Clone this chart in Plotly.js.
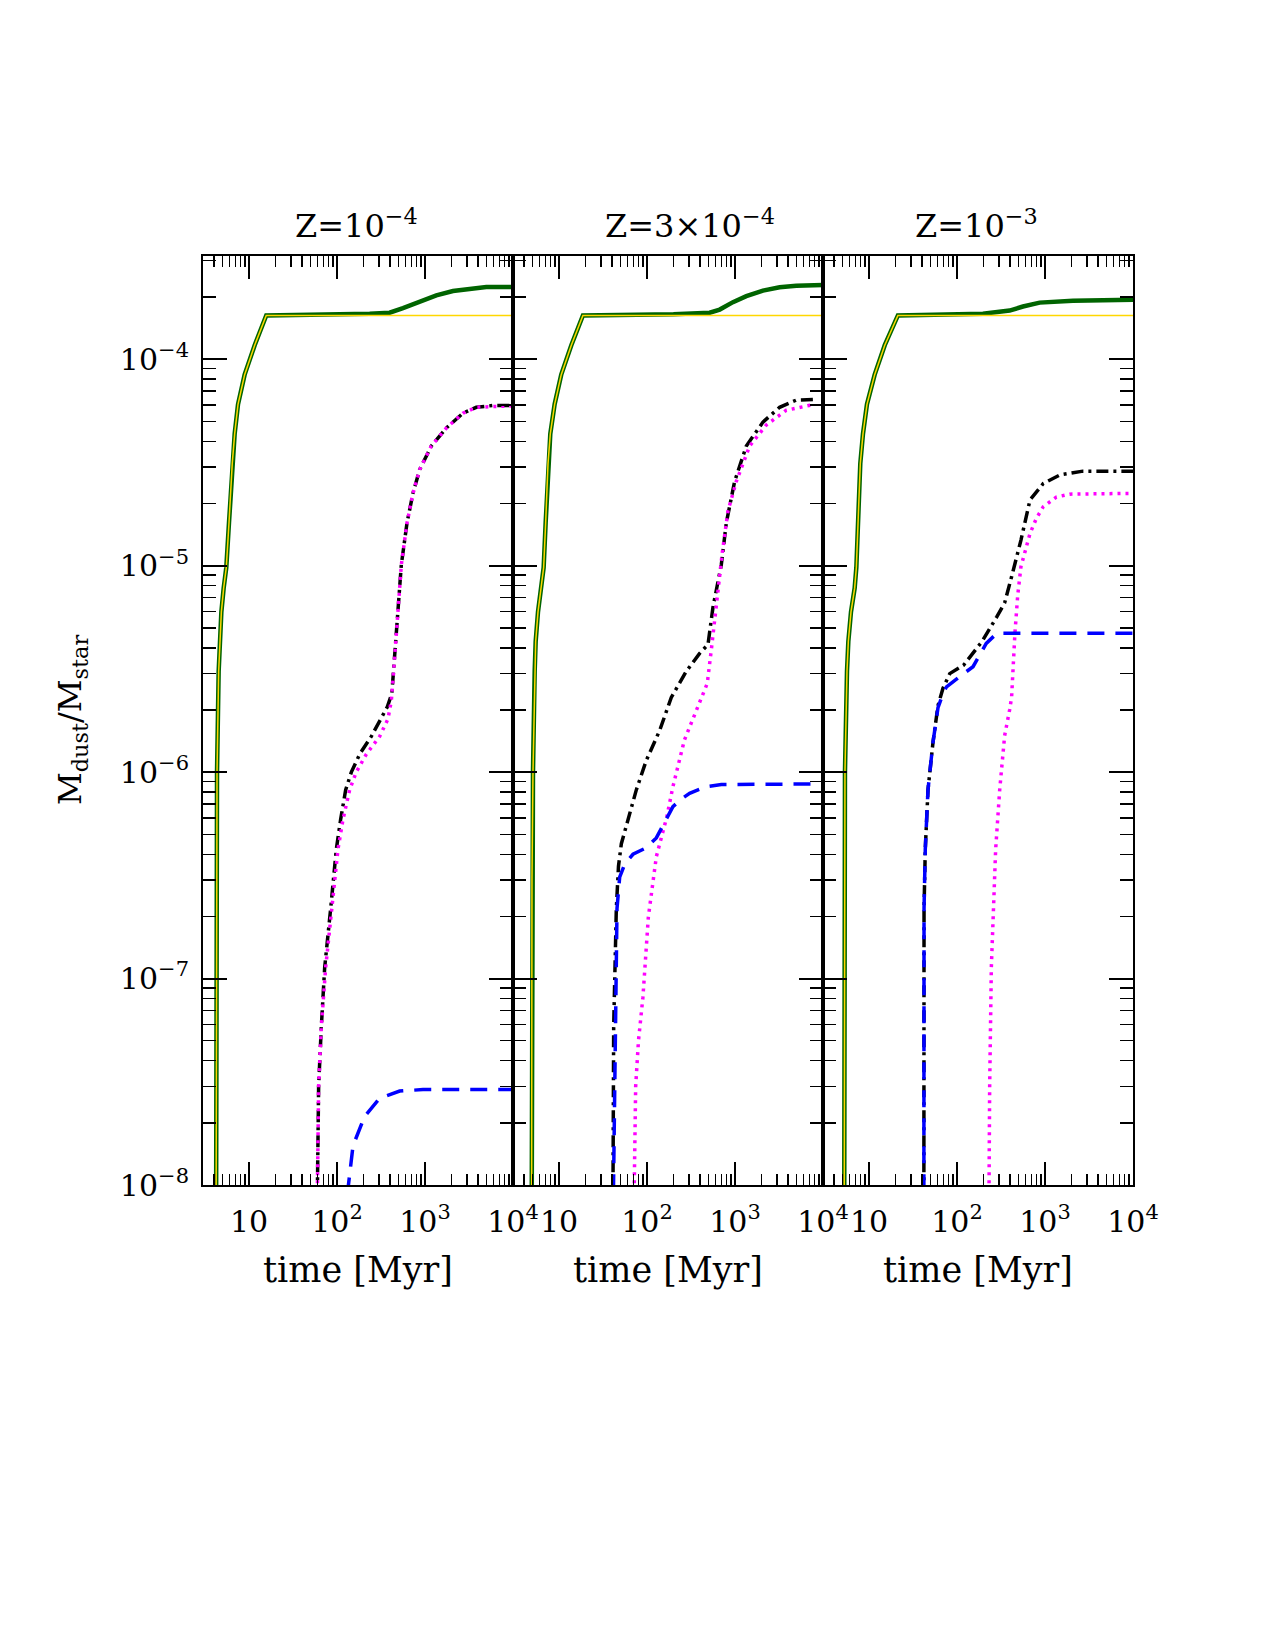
<!DOCTYPE html>
<html><head><meta charset="utf-8">
<script src="https://cdn.plot.ly/plotly-3.0.1.min.js"></script>
<style>body{margin:0;background:#fff}#chart{width:1275px;height:1650px}</style>
</head><body><div id="chart"></div>
<script>
// ---------- labels ----------
const panelTitles = ['Z=10<sup>−4</sup>', 'Z=3×10<sup>−4</sup>', 'Z=10<sup>−3</sup>'];
const xTitle = 'time [Myr]';
const yTitle = 'M<sub>dust</sub>/M<sub>star</sub>';
const xTickVals = [10, 100, 1000, 10000];
const xTickText = ['10', '10<sup>2</sup>', '10<sup>3</sup>', '10<sup>4</sup>'];
const yTickVals = [1e-8, 1e-7, 1e-6, 1e-5, 1e-4];
const yTickText = ['10<sup>−8</sup>', '10<sup>−7</sup>', '10<sup>−6</sup>', '10<sup>−5</sup>', '10<sup>−4</sup>'];

// ---------- panel 1: Z = 1e-4 ----------
const riseT1 = [4.22, 4.27, 4.33, 4.52, 4.85, 5.15, 5.52, 5.92, 6.45, 6.87, 7.50, 8.92, 11.6, 15.7];
const riseV1 = [5e-9, 2.5e-7, 1.0e-6, 3.08e-6, 5.97e-6, 7.78e-6, 9.8e-6, 1.61e-5, 3.12e-5, 4.35e-5, 6.05e-5, 8.42e-5, 1.17e-4, 1.63e-4];
const tailT1 = [235, 396, 562, 869, 1345, 2078, 3214, 4973, 10000];
const tailV1 = [1.66e-4, 1.68e-4, 1.77e-4, 1.89e-4, 2.04e-4, 2.14e-4, 2.20e-4, 2.24e-4, 2.24e-4];
const aT1 = [58.8, 61.8, 66.3, 72.4, 84.7, 98.2, 109.9, 125.4, 145.5, 180.7, 245.5, 319.2, 373.1, 420, 460, 493.2, 538.3, 624.2, 729.5, 869, 1180, 1746, 2698, 3828, 5925, 10000];
const aV1 = [5e-9, 3.0e-8, 5.81e-8, 1.13e-7, 2.18e-7, 4.23e-7, 5.89e-7, 8.2e-7, 1.0e-6, 1.22e-6, 1.49e-6, 1.81e-6, 2.07e-6, 2.4e-6, 4.0e-6, 5.97e-6, 1.01e-5, 1.61e-5, 2.24e-5, 2.92e-5, 3.80e-5, 4.64e-5, 5.48e-5, 5.85e-5, 5.97e-5, 5.97e-5];
const bT1 = [58.8, 61.8, 66.3, 74.3, 102.6, 116.9, 139.2, 165.6, 215.2, 305.5, 379.3, 414, 440.2, 493.2, 538.3, 624.2, 729.5, 869, 1180, 1746, 2698, 3828, 5925, 10000];
const bV1 = [5e-9, 3.0e-8, 5.81e-8, 1.13e-7, 4.23e-7, 5.89e-7, 8.2e-7, 1.0e-6, 1.22e-6, 1.49e-6, 1.81e-6, 2.21e-6, 3.08e-6, 5.97e-6, 1.01e-5, 1.61e-5, 2.24e-5, 2.92e-5, 3.80e-5, 4.64e-5, 5.48e-5, 5.85e-5, 5.92e-5, 5.95e-5];
const cT1 = [131, 152.1, 206, 305.5, 515.2, 948, 10000];
const cV1 = [9e-9, 1.55e-8, 2.15e-8, 2.63e-8, 2.85e-8, 2.9e-8, 2.9e-8];

// ---------- panel 2: Z = 3e-4 ----------
const riseT2 = [4.88, 4.93, 5.06, 5.29, 5.43, 5.77, 6.30, 6.69, 7.05, 7.50, 7.96, 8.92, 10.6, 13.8, 18.7];
const riseV2 = [5e-9, 3.04e-7, 1.0e-6, 3.08e-6, 4.29e-6, 5.97e-6, 7.78e-6, 9.8e-6, 1.61e-5, 3.12e-5, 4.35e-5, 6.05e-5, 8.42e-5, 1.17e-4, 1.63e-4];
const tailT2 = [200, 515, 670, 948, 1345, 2078, 3214, 4973, 10000];
const tailV2 = [1.65e-4, 1.68e-4, 1.74e-4, 1.89e-4, 2.02e-4, 2.15e-4, 2.23e-4, 2.27e-4, 2.29e-4];
const aT2 = [40.8, 41.8, 44.8, 47.4, 51.1, 60.8, 75.6, 98.2, 139.2, 188.8, 279.9, 396.3, 493.2, 562.3, 698.9, 796.2, 990.8, 1345, 2078, 3214, 4973, 8041];
const aV2 = [5e-9, 5.81e-8, 2.18e-7, 3.5e-7, 4.5e-7, 5.89e-7, 8.2e-7, 1.14e-6, 1.59e-6, 2.3e-6, 3.08e-6, 3.76e-6, 4.15e-6, 6.3e-6, 1.01e-5, 1.61e-5, 2.56e-5, 3.80e-5, 4.96e-5, 5.85e-5, 6.34e-5, 6.38e-5];
const bT2 = [70.0, 74.3, 80, 89.8, 103.6, 127.6, 167.9, 197, 266, 366, 484, 543, 617, 717.8, 831.8, 1035, 1467, 2268, 3828, 8041];
const bV2 = [5e-9, 3.0e-8, 5.0e-8, 8.1e-8, 1.99e-7, 3.89e-7, 6.07e-7, 8.5e-7, 1.43e-6, 2.0e-6, 2.69e-6, 4.05e-6, 6.8e-6, 1.16e-5, 1.84e-5, 2.56e-5, 3.80e-5, 4.80e-5, 5.66e-5, 6.05e-5];
const cT2 = [40.8, 45.6, 48.9, 56, 69.3, 98.2, 127.6, 152, 197, 245, 305, 472, 700, 8041];
const cV2 = [5e-9, 2.18e-7, 3.1e-7, 3.6e-7, 4.0e-7, 4.3e-7, 4.8e-7, 5.5e-7, 6.8e-7, 7.4e-7, 7.9e-7, 8.5e-7, 8.7e-7, 8.77e-7];

// ---------- panel 3: Z = 1e-3 ----------
const riseT3 = [5.22, 5.26, 5.33, 5.62, 5.82, 6.24, 6.87, 7.18, 7.50, 7.96, 8.54, 9.48, 11.6, 15.1, 21.3];
const riseV3 = [5e-9, 3.04e-7, 1.0e-6, 3.08e-6, 4.29e-6, 5.97e-6, 7.78e-6, 9.8e-6, 1.61e-5, 3.12e-5, 4.35e-5, 6.05e-5, 8.42e-5, 1.17e-4, 1.63e-4];
const tailT3 = [197, 396, 562, 869, 1345, 2078, 10000];
const tailV3 = [1.66e-4, 1.72e-4, 1.80e-4, 1.88e-4, 1.91e-4, 1.92e-4, 1.94e-4];
const aT3 = [42.0, 42.2, 43.6, 46.8, 53.3, 60.8, 69.3, 82.7, 119, 193, 283, 347.7, 417, 533, 675, 957, 1475, 2698, 10000];
const aV3 = [5e-9, 2.18e-7, 4.23e-7, 8.2e-7, 1.39e-6, 2.1e-6, 2.55e-6, 3.0e-6, 3.3e-6, 4.3e-6, 5.65e-6, 6.6e-6, 8.83e-6, 1.33e-5, 2.08e-5, 2.5e-5, 2.75e-5, 2.87e-5, 2.87e-5];
const bT3 = [229, 235, 245.5, 274.9, 305.5, 347.7, 396, 417, 455, 490, 533, 600, 675, 800, 957, 1345, 1905, 10000];
const bV3 = [5e-9, 3.0e-8, 1.13e-7, 4.23e-7, 8.2e-7, 1.5e-6, 2.0e-6, 2.3e-6, 4.7e-6, 7.2e-6, 9.9e-6, 1.2e-5, 1.43e-5, 1.7e-5, 1.93e-5, 2.15e-5, 2.22e-5, 2.24e-5];
const cT3 = [42.0, 42.2, 43.6, 46.8, 53.3, 60.8, 69.3, 76, 107, 152, 215, 283, 10000];
const cV3 = [5e-9, 2.18e-7, 4.23e-7, 8.2e-7, 1.39e-6, 2.05e-6, 2.4e-6, 2.59e-6, 2.9e-6, 3.24e-6, 4.2e-6, 4.7e-6, 4.7e-6];

const gasFlatT = 10000;

const panels = [
  {rt: riseT1, rv: riseV1, tt: tailT1, tv: tailV1, at: aT1, av: aV1, bt: bT1, bv: bV1, ct: cT1, cv: cV1},
  {rt: riseT2, rv: riseV2, tt: tailT2, tv: tailV2, at: aT2, av: aV2, bt: bT2, bv: bV2, ct: cT2, cv: cV2},
  {rt: riseT3, rv: riseV3, tt: tailT3, tv: tailV3, at: aT3, av: aV3, bt: bT3, bv: bV3, ct: cT3, cv: cV3}
];

// ---------- geometry (pixels in a 1275x1650 page) ----------
const W = 1275, H = 1650;
const panelLeft = [203, 513, 823], panelW = 310;
const plotTop = 256, plotBottom = 1185;
const FONT = 'DejaVu Serif';

const xMinor = [];
[1, 10, 100, 1000].forEach(d => { for (let k = 2; k <= 9; k++) xMinor.push(k * d); });
const yMinor = [];
[1e-8, 1e-7, 1e-6, 1e-5, 1e-4].forEach(d => { for (let k = 2; k <= 9; k++) yMinor.push(k * d); });

const traces = [];
panels.forEach((p, i) => {
  const xa = 'x' + (i ? i + 1 : ''), ya = 'y' + (i ? i + 1 : '');
  const lastRiseV = p.rv[p.rv.length - 1];
  traces.push({x: p.at, y: p.av, xaxis: xa, yaxis: ya, mode: 'lines', line: {color: '#000000', width: 3.5, dash: '12px,5px,3px,5px'}, hoverinfo: 'skip'});
  traces.push({x: p.bt, y: p.bv, xaxis: xa, yaxis: ya, mode: 'lines', line: {color: '#ff00ff', width: 3.5, dash: '3px,5px'}, hoverinfo: 'skip'});
  traces.push({x: p.ct, y: p.cv, xaxis: xa, yaxis: ya, mode: 'lines', line: {color: '#0000ff', width: 3.5, dash: '17px,11px'}, hoverinfo: 'skip'});
  traces.push({x: p.rt.concat(p.tt), y: p.rv.concat(p.tv), xaxis: xa, yaxis: ya, mode: 'lines', line: {color: '#006400', width: 4.5}, hoverinfo: 'skip'});
  traces.push({x: p.rt.concat([gasFlatT]), y: p.rv.concat([lastRiseV]), xaxis: xa, yaxis: ya, mode: 'lines', line: {color: '#ffd700', width: 1.5}, hoverinfo: 'skip'});
});

const layout = {
  width: W, height: H, showlegend: false,
  margin: {l: 0, r: 0, t: 0, b: 0, pad: 0},
  paper_bgcolor: '#fff', plot_bgcolor: '#fff',
  annotations: []
};
const yDom = [(H - plotBottom) / H, (H - plotTop) / H];
panels.forEach((p, i) => {
  const sfx = i ? i + 1 : '';
  const dom = [panelLeft[i] / W, (panelLeft[i] + panelW) / W];
  layout['xaxis' + sfx] = {
    type: 'log', domain: dom, range: [Math.log10(3), 4], anchor: 'y' + sfx,
    tickmode: 'array', tickvals: xTickVals, ticktext: xTickText,
    ticks: 'inside', ticklen: 23, tickwidth: 2, tickcolor: '#000',
    showline: true, linewidth: 2, linecolor: '#000', mirror: 'ticks',
    showgrid: false, zeroline: false, ticklabelstandoff: 9,
    tickfont: {family: FONT, size: 30, color: '#000'},
    minor: {tickmode: 'array', tickvals: xMinor, ticks: 'inside', ticklen: 11, tickwidth: 1.5, tickcolor: '#000', showgrid: false}
  };
  layout['yaxis' + sfx] = {
    type: 'log', domain: yDom, range: [-8, -3.5], anchor: 'x' + sfx,
    tickmode: 'array', tickvals: yTickVals, ticktext: yTickText,
    ticks: 'inside', ticklen: 24, tickwidth: 2, tickcolor: '#000',
    showline: true, linewidth: 2, linecolor: '#000', mirror: 'ticks',
    showgrid: false, zeroline: false, showticklabels: i === 0, ticklabelstandoff: 6,
    tickfont: {family: FONT, size: 30, color: '#000'},
    minor: {tickmode: 'array', tickvals: yMinor, ticks: 'inside', ticklen: 13, tickwidth: 1.5, tickcolor: '#000', showgrid: false}
  };
  layout.annotations.push({
    text: panelTitles[i], xref: 'paper', yref: 'paper', x: (panelLeft[i] + 90) / W, y: (H - 224) / H,
    xanchor: 'left', yanchor: 'middle', showarrow: false, font: {family: FONT, size: 32, color: '#000'}
  });
  layout.annotations.push({
    text: xTitle, xref: 'paper', yref: 'paper', x: (panelLeft[i] + panelW / 2) / W, y: (H - 1270) / H,
    xanchor: 'center', yanchor: 'middle', showarrow: false, font: {family: FONT, size: 35, color: '#000'}
  });
});
layout.annotations.push({
  text: yTitle, xref: 'paper', yref: 'paper', x: 72 / W, y: (H - 720) / H, textangle: -90,
  xanchor: 'center', yanchor: 'middle', showarrow: false, font: {family: FONT, size: 32, color: '#000'}
});

Plotly.newPlot('chart', traces, layout, {displayModeBar: false, staticPlot: true});
</script>
</body></html>
